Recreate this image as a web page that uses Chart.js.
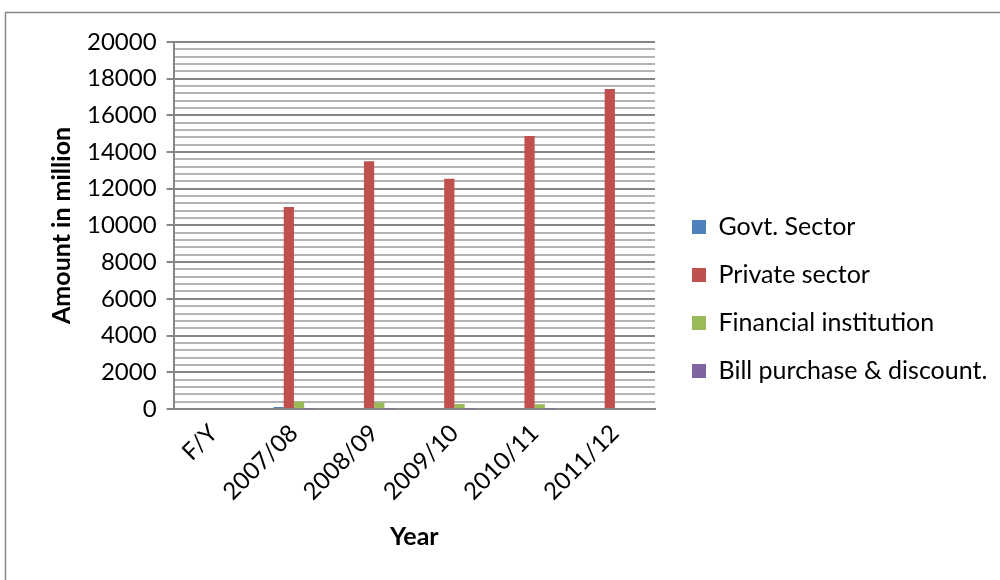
<!DOCTYPE html>
<html>
<head>
<meta charset="utf-8">
<script src="https://cdn.jsdelivr.net/npm/chart.js@4/dist/chart.umd.min.js"></script>
<style>
  html, body { margin: 0; padding: 0; background: #fff; }
  #wrap { width: 1000px; height: 580px; position: relative; }
</style>
</head>
<body>
<div id="wrap"><canvas id="loanChart" width="1000" height="580"></canvas></div>
<script>
// Loans and advances by sector, amount in million
const years = ['F/Y', '2007/08', '2008/09', '2009/10', '2010/11', '2011/12'];
const govtSector = [0, 100, 0, 0, 0, 0];
const privateSector = [0, 11000, 13500, 12550, 14870, 17440];
const financialInstitution = [0, 400, 345, 270, 250, 0];
const billPurchase = [0, 15, 10, 10, 10, 30];

const FONT = 'Lato, "DejaVu Sans", sans-serif';
const LEGEND_W = 345;   // room for the longest legend entry
const LEGEND_SHIFT = 14;

// Excel-like outer frame of the chart area
const frame = {
  id: 'frame',
  beforeDraw(chart) {
    const c = chart.ctx;
    c.save();
    c.fillStyle = '#fff';
    c.fillRect(0, 0, chart.width, chart.height);
    c.strokeStyle = '#888';
    c.lineWidth = 1.5;
    c.strokeRect(5.5, 12.5, 1200, 800);
    c.restore();
  }
};

// the default layout caps a side legend at a quarter of the width, widen it
const wideLegend = {
  id: 'wideLegend',
  beforeLayout(chart) {
    const lg = chart.legend;
    if (lg && !lg._wide) {
      const fit = lg.fit;
      lg.fit = function () { fit.call(this); this.width = LEGEND_W; };
      lg._wide = true;
    }
  },
  afterLayout(chart) {
    chart.legend.left += LEGEND_SHIFT;
    chart.legend.right += LEGEND_SHIFT;
  }
};

const isMajor = v => v % 2000 === 0;

new Chart(document.getElementById('loanChart'), {
  type: 'bar',
  data: {
    labels: years,
    datasets: [
      { label: 'Govt. Sector', data: govtSector, backgroundColor: '#4F81BD' },
      { label: 'Private sector', data: privateSector, backgroundColor: '#C0504D' },
      { label: 'Financial institution', data: financialInstitution, backgroundColor: '#9BBB59' },
      { label: 'Bill purchase & discount.', data: billPurchase, backgroundColor: '#8064A2' }
    ]
  },
  options: {
    responsive: false,
    animation: false,
    devicePixelRatio: 1,
    layout: { padding: { left: 43, top: 42, right: 0, bottom: 24 } },
    datasets: { bar: { categoryPercentage: 0.51, barPercentage: 1.0 } },
    plugins: {
      tooltip: { enabled: false },
      legend: {
        position: 'right',
        align: 'center',
        labels: {
          color: '#000',
          font: { family: FONT, size: 25 },
          boxWidth: 14,
          boxHeight: 14,
          padding: 23
        }
      }
    },
    scales: {
      x: {
        grid: { display: false, drawTicks: false },
        border: { color: '#868686', width: 2 },
        ticks: {
          color: '#000',
          font: { family: FONT, size: 24 },
          minRotation: 45,
          maxRotation: 45,
          padding: 10
        },
        title: {
          display: true,
          text: 'Year',
          color: '#000',
          font: { family: FONT, size: 25, weight: 'bold' },
          padding: { top: 6 }
        }
      },
      y: {
        min: 0,
        max: 20000,
        ticks: {
          stepSize: 400,
          autoSkip: false,
          color: '#000',
          font: { family: FONT, size: 24 },
          padding: 10,
          callback: v => isMajor(v) ? v : ''
        },
        grid: {
          lineWidth: 2,
          tickLength: 7,
          color: ctx => isMajor(ctx.tick.value) ? '#868686' : '#b4b4b4',
          tickColor: ctx => isMajor(ctx.tick.value) ? '#868686' : 'rgba(0,0,0,0)'
        },
        border: { color: '#868686', width: 2 },
        title: {
          display: true,
          text: 'Amount in million',
          color: '#000',
          font: { family: FONT, size: 25, weight: 'bold' },
          padding: { top: 4, bottom: 0 }
        }
      }
    }
  },
  plugins: [frame, wideLegend]
});
</script>
</body>
</html>
